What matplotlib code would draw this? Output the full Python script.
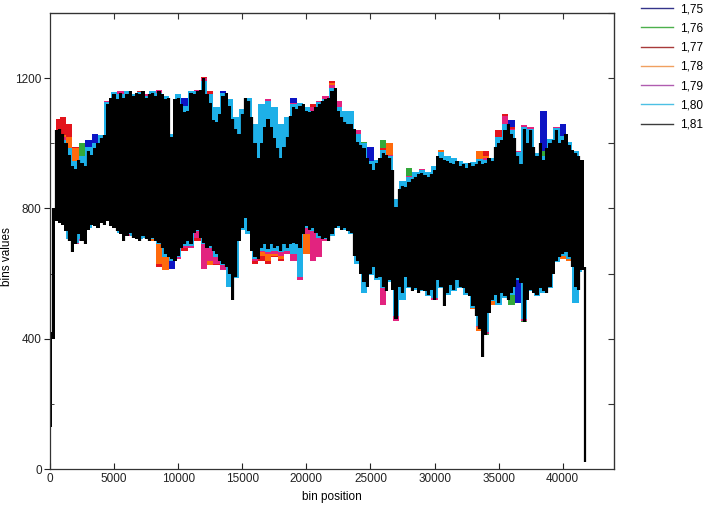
import numpy as np
import matplotlib
matplotlib.use("Agg")
import matplotlib.pyplot as plt
from matplotlib.lines import Line2D
from matplotlib.ticker import MultipleLocator

plt.rcParams['font.family'] = ['Liberation Sans', 'DejaVu Sans']

labels = ["1,75", "1,76", "1,77", "1,78", "1,79", "1,80", "1,81"]
plot_colors = ["#0c14c4", "#33a83a", "#e3141c", "#ff6a0c", "#e2237f", "#1eb0e8", "#000000"]
legend_colors = ["#34348a", "#4cb04c", "#a83a3a", "#f0a060", "#b05cb0", "#4cc0e4", "#3c3c3c"]

# black series (1,81): bin step 250
bins_fine = np.arange(0, 42000, 250)
upper_181 = [420, 800, 1040, 1045, 1030, 1000, 965, 930, 920, 950, 940, 930, 975, 965, 985, 1000,
             1015, 1025, 1120, 1140, 1150, 1135, 1155, 1140, 1150, 1160, 1145, 1155, 1150, 1160, 1140, 1150,
             1155, 1145, 1160, 1150, 1135, 1140, 1020, 1135, 1140, 1120, 1095, 1100, 1155, 1150, 1160, 1165,
             1200, 1150, 1125, 1070, 1065, 1090, 1145, 1155, 1115, 1075, 1045, 1030, 1090, 1140, 1130, 1080,
             1000, 955, 1000, 1050, 1075, 1050, 1015, 985, 955, 990, 1020, 1085, 1110, 1105, 1115, 1120,
             1100, 1095, 1100, 1110, 1120, 1130, 1135, 1140, 1160, 1170, 1100, 1080, 1065, 1060, 1060, 1045,
             1005, 995, 985, 955, 935, 918, 940, 955, 970, 965, 955, 918, 805, 860, 870, 865,
             880, 890, 898, 905, 908, 904, 898, 905, 918, 960, 955, 950, 945, 940, 935, 945,
             930, 935, 925, 940, 930, 935, 945, 935, 940, 955, 945, 990, 1000, 1010, 1040, 1060,
             1030, 1015, 960, 935, 1045, 1000, 1040, 990, 960, 1000, 950, 985, 1000, 1010, 1040, 1000,
             1010, 1030, 995, 980, 970, 960, 950, 620]
lower_181 = [130, 400, 760, 755, 750, 730, 700, 665, 690, 720, 700, 690, 735, 750, 745, 740,
             755, 750, 760, 745, 740, 730, 720, 700, 715, 725, 710, 705, 700, 715, 705, 700,
             710, 700, 695, 680, 660, 650, 645, 640, 655, 680, 690, 700, 690, 725, 735, 710,
             695, 680, 685, 670, 660, 640, 630, 620, 600, 520, 590, 700, 740, 770, 730, 670,
             650, 645, 680, 690, 675, 690, 680, 685, 670, 690, 680, 690, 695, 690, 680, 720,
             745, 735, 740, 725, 715, 705, 710, 700, 720, 740, 745, 735, 740, 730, 725, 655,
             640, 600, 575, 560, 600, 620, 585, 590, 560, 545, 580, 550, 460, 560, 540, 590,
             560, 545, 555, 540, 550, 545, 535, 550, 520, 580, 560, 500, 540, 565, 550, 580,
             560, 555, 540, 530, 500, 470, 430, 345, 410, 480, 520, 535, 510, 540, 530, 520,
             540, 560, 585, 570, 450, 520, 550, 540, 535, 555, 545, 540, 560, 600, 640, 650,
             660, 665, 650, 620, 560, 550, 610, 20]

# coloured series: bin step 500
bins_coarse = np.arange(500, 42000, 500)
upper_175 = [1030, 1020, 955, 925, 945, 1010, 1030, 1020, 1125, 1150, 1150, 1150, 1145, 1150, 1140,
             1155, 1160, 1140, 1015, 1150, 1140, 1160, 1165, 1195, 1155, 1090, 1160, 1120, 1050, 1095, 1135,
             1000, 1030, 1080, 1040, 960, 1025, 1140, 1120, 1105, 1105, 1130, 1140, 1170, 1105, 1070, 1065,
             1010, 990, 990, 945, 975, 960, 810, 875, 890, 905, 915, 905, 925, 960, 950, 945,
             935, 930, 935, 950, 945, 950, 1005, 1065, 1070, 965, 1050, 1045, 965, 1100, 1005, 1045,
             1060, 1000, 975, 945]
lower_175 = [765, 755, 705, 695, 705, 740, 750, 760, 765, 745, 725, 720, 715, 705, 710,
             705, 690, 630, 615, 650, 670, 685, 725, 690, 650, 650, 625, 595, 590, 745, 735,
             645, 670, 665, 670, 665, 670, 690, 675, 740, 735, 710, 705, 715, 745, 740, 725,
             640, 575, 600, 590, 560, 580, 460, 540, 560, 555, 550, 535, 520, 560, 540, 550,
             560, 540, 500, 430, 410, 520, 510, 530, 505, 510, 450, 550, 535, 545, 560, 640,
             660, 650, 560, 610]
upper_176 = [1030, 1020, 960, 930, 1000, 975, 985, 1015, 1125, 1150, 1155, 1150, 1145, 1155, 1145,
             1160, 1160, 1140, 1020, 1145, 1100, 1160, 1160, 1200, 1140, 1085, 1150, 1120, 1050, 1095, 1135,
             1005, 1050, 1090, 1040, 980, 1030, 1115, 1120, 1105, 1105, 1125, 1140, 1175, 1105, 1070, 1065,
             1010, 1005, 940, 945, 1010, 960, 810, 875, 925, 905, 915, 905, 925, 960, 950, 945,
             935, 930, 935, 950, 950, 950, 1010, 1080, 1040, 965, 1050, 1045, 965, 975, 1005, 1045,
             1015, 1000, 975, 945]
lower_176 = [765, 755, 705, 695, 705, 740, 750, 760, 765, 745, 725, 720, 715, 705, 710,
             705, 690, 640, 645, 650, 685, 685, 725, 635, 650, 640, 625, 600, 590, 745, 735,
             645, 640, 630, 660, 655, 665, 690, 675, 740, 735, 710, 705, 715, 745, 740, 725,
             640, 575, 600, 590, 560, 580, 460, 540, 560, 555, 550, 535, 520, 560, 540, 550,
             560, 540, 500, 430, 410, 520, 510, 530, 505, 585, 450, 550, 535, 545, 560, 640,
             660, 650, 560, 610]
upper_177 = [1075, 1080, 1060, 990, 945, 980, 990, 1020, 1130, 1155, 1160, 1155, 1150, 1160, 1150,
             1160, 1165, 1145, 1025, 1145, 1110, 1160, 1165, 1205, 1160, 1100, 1150, 1125, 1060, 1100, 1140,
             1030, 1100, 1130, 1080, 1000, 1050, 1120, 1120, 1110, 1120, 1130, 1140, 1190, 1120, 1075, 1070,
             1040, 990, 945, 950, 985, 990, 815, 880, 895, 905, 915, 905, 930, 975, 955, 950,
             940, 935, 940, 960, 975, 955, 1040, 1090, 1050, 970, 1050, 1045, 965, 955, 1010, 1045,
             1020, 1000, 975, 945]
lower_177 = [765, 755, 705, 695, 705, 740, 750, 760, 765, 745, 725, 720, 715, 705, 710,
             700, 620, 625, 650, 650, 670, 680, 700, 620, 630, 625, 620, 605, 595, 745, 730,
             630, 640, 630, 650, 640, 665, 690, 680, 700, 650, 690, 700, 720, 745, 740, 725,
             640, 580, 605, 590, 560, 585, 465, 545, 560, 555, 550, 540, 525, 560, 545, 555,
             560, 545, 505, 440, 415, 505, 515, 535, 545, 590, 455, 555, 540, 550, 565, 640,
             650, 645, 560, 615]
upper_178 = [1035, 1025, 1020, 985, 950, 975, 985, 1010, 1125, 1150, 1150, 1150, 1145, 1150, 1145,
             1155, 1160, 1140, 1020, 1140, 1100, 1155, 1160, 1195, 1140, 1090, 1150, 1120, 1055, 1095, 1135,
             1010, 1060, 1100, 1060, 970, 1040, 1115, 1115, 1105, 1105, 1125, 1140, 1185, 1105, 1070, 1065,
             1010, 990, 940, 945, 975, 1000, 810, 875, 890, 910, 915, 905, 925, 980, 960, 955,
             940, 935, 935, 975, 960, 950, 1010, 1080, 1040, 965, 1050, 1045, 965, 955, 1005, 1045,
             1020, 1000, 975, 945]
lower_178 = [765, 755, 705, 695, 705, 740, 750, 760, 765, 745, 725, 720, 715, 705, 710,
             700, 630, 610, 640, 645, 680, 685, 720, 640, 625, 640, 625, 600, 590, 745, 735,
             640, 655, 640, 655, 645, 660, 690, 680, 660, 650, 700, 705, 715, 745, 740, 725,
             640, 575, 600, 590, 565, 580, 465, 540, 560, 555, 550, 540, 520, 565, 545, 555,
             560, 545, 490, 425, 430, 505, 515, 535, 545, 590, 455, 555, 540, 550, 565, 640,
             645, 640, 560, 615]
upper_179 = [1030, 1020, 970, 930, 955, 985, 995, 1020, 1130, 1155, 1160, 1155, 1150, 1155, 1150,
             1160, 1165, 1145, 1025, 1150, 1110, 1160, 1165, 1200, 1150, 1105, 1155, 1125, 1060, 1100, 1140,
             965, 1080, 1135, 1100, 1000, 1060, 1125, 1120, 1110, 1110, 1130, 1145, 1180, 1130, 1080, 1070,
             1040, 1000, 945, 950, 980, 965, 815, 880, 900, 910, 920, 910, 930, 965, 955, 950,
             945, 935, 940, 950, 955, 955, 1020, 1085, 1045, 975, 1055, 1050, 970, 960, 1010, 1050,
             1020, 1005, 975, 945]
lower_179 = [765, 755, 705, 690, 700, 740, 750, 755, 765, 745, 725, 715, 715, 705, 710,
             705, 690, 650, 645, 645, 680, 680, 710, 615, 640, 630, 610, 580, 590, 745, 735,
             640, 665, 660, 660, 655, 660, 640, 580, 720, 640, 650, 700, 715, 745, 740, 725,
             635, 575, 600, 585, 505, 580, 455, 540, 555, 550, 545, 535, 520, 560, 540, 550,
             560, 540, 505, 435, 415, 515, 510, 530, 545, 585, 455, 550, 535, 545, 560, 640,
             655, 645, 550, 610]
upper_180 = [1030, 1010, 985, 945, 960, 990, 1000, 1025, 1128, 1158, 1152, 1160, 1150, 1158, 1145,
             1162, 1155, 1145, 1030, 1150, 1115, 1162, 1160, 1190, 1150, 1110, 1155, 1135, 1080, 1105, 1138,
             1060, 1120, 1130, 1110, 1060, 1080, 1120, 1125, 1110, 1100, 1128, 1135, 1170, 1110, 1100, 1100,
             1030, 1000, 945, 950, 980, 962, 830, 885, 898, 912, 918, 912, 930, 972, 960, 955,
             945, 940, 942, 952, 948, 955, 1020, 1060, 1042, 972, 1050, 1045, 970, 960, 1012, 1048,
             1022, 1003, 975, 945]
lower_180 = [765, 755, 705, 695, 705, 740, 750, 760, 765, 745, 725, 720, 715, 705, 710,
             705, 690, 650, 640, 650, 685, 685, 730, 690, 680, 650, 625, 560, 585, 735, 720,
             645, 670, 665, 670, 665, 670, 660, 590, 740, 730, 710, 705, 715, 740, 735, 720,
             630, 540, 595, 580, 555, 575, 470, 520, 555, 550, 545, 530, 525, 555, 535, 545,
             555, 535, 495, 440, 420, 515, 505, 525, 535, 580, 460, 545, 530, 540, 555, 635,
             655, 645, 510, 605]

coarse_series = [(upper_175, lower_175), (upper_176, lower_176), (upper_177, lower_177),
                 (upper_178, lower_178), (upper_179, lower_179), (upper_180, lower_180)]

fig = plt.figure(figsize=(7.12, 5.05), dpi=100)
ax = fig.add_axes([50 / 712, 1 - 469 / 505, 564 / 712, 456 / 505])

for (up, lo), col in zip(coarse_series, plot_colors[:6]):
    ax.fill_between(bins_coarse, lo, up, step='mid', color=col, lw=0)
ax.fill_between(bins_fine, lower_181, upper_181, step='mid', color=plot_colors[6], lw=0)
ax.vlines(bins_fine, lower_181, upper_181, colors=plot_colors[6], linewidth=1.6)

ax.set_xlim(0, 44000)
ax.set_ylim(0, 1400)
ax.set_xticks(np.arange(0, 40001, 5000))
ax.yaxis.set_major_locator(MultipleLocator(400))
ax.yaxis.set_minor_locator(MultipleLocator(200))
ax.tick_params(axis='x', direction='in', length=4, labelsize=8.5, colors='#222222', pad=3)
ax.tick_params(axis='y', which='major', direction='out', length=4, labelsize=8.5, colors='#222222', pad=2)
ax.tick_params(axis='y', which='minor', direction='in', length=3, colors='#222222')
for s in ax.spines.values():
    s.set_color('#333333')
    s.set_linewidth(0.9)

sec_y = ax.secondary_yaxis('right')
sec_y.set_yticks(np.arange(200, 1401, 200))
sec_y.tick_params(direction='in', length=4, labelright=False, colors='#333333')
sec_x = ax.secondary_xaxis('top')
sec_x.set_xticks(np.arange(5000, 40001, 5000))
sec_x.tick_params(direction='in', length=4, labeltop=False, colors='#333333')

ax.set_xlabel("bin position", fontsize=8.5, labelpad=4)
ax.set_ylabel("bins values", fontsize=8.5)
ax.yaxis.set_label_coords(-0.066, 0.465)

handles = [Line2D([0], [0], color=c, lw=1.0) for c in legend_colors]
fig.legend(handles, labels, loc='upper left', bbox_to_anchor=(641 / 712, 1 - 3 / 505),
           frameon=False, fontsize=8.5, handlelength=2.7, labelspacing=0.62, handletextpad=0.6,
           borderpad=0, borderaxespad=0)

fig.savefig("out.png", dpi=100)
